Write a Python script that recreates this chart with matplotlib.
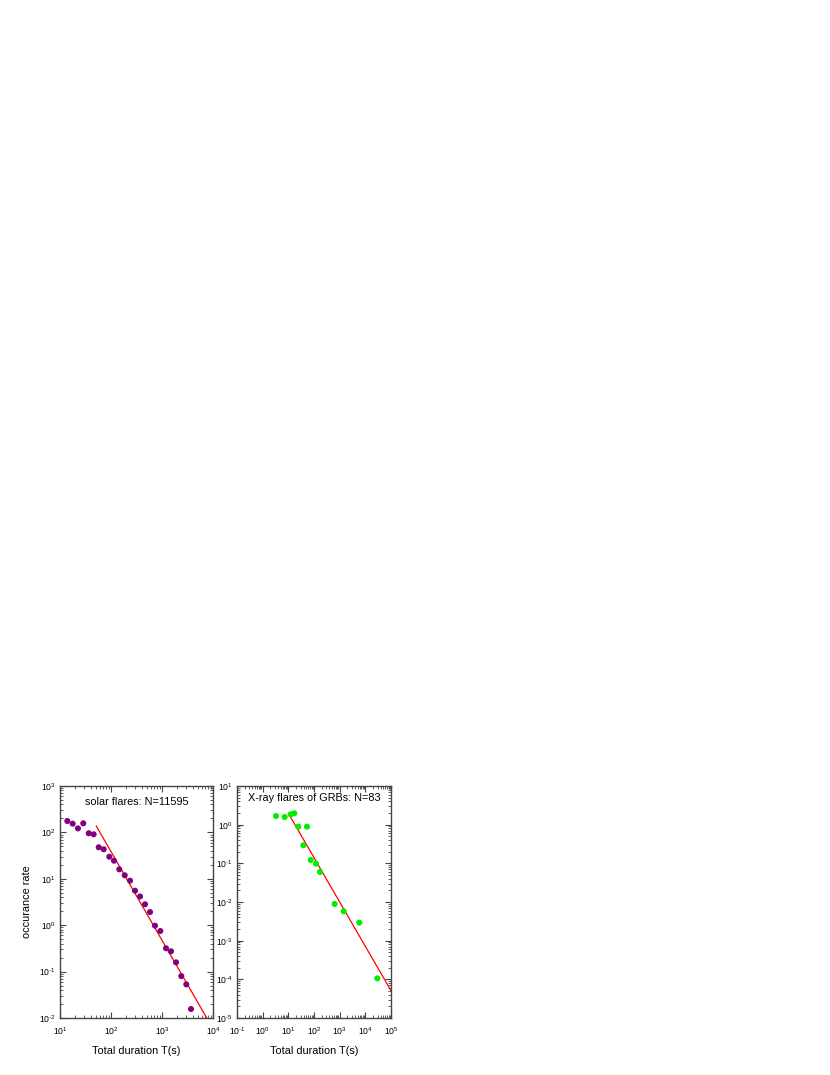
import matplotlib
matplotlib.use("Agg")
import matplotlib.pyplot as plt
import numpy as np
from matplotlib.ticker import LogLocator, NullFormatter, FuncFormatter

plt.rcParams['font.family'] = ['Liberation Sans', 'DejaVu Sans']
plt.rcParams['mathtext.fontset'] = 'custom'
plt.rcParams['mathtext.rm'] = 'Liberation Sans'
plt.rcParams['mathtext.default'] = 'regular'

# Solar flares
solar_T = [13.9, 17.7, 22.5, 28.6, 36.6, 45.8, 57.4, 71.9, 92.7, 114.5, 145.5, 185.8,
           236, 295.6, 370.7, 464.6, 582, 729, 927, 1198, 1500, 1883, 2389, 2995, 3704]
solar_rate = [176, 154, 122, 157, 95.7, 91, 47.8, 43.2, 29.9, 24.5, 16.0, 11.9,
              9.1, 5.54, 4.16, 2.82, 1.92, 0.975, 0.75, 0.318, 0.274, 0.158, 0.080, 0.053, 0.0156]
solar_fit_x = [51.5, 7520]
solar_fit_amp = 137.0
solar_fit_index = -1.91

# X-ray flares of GRBs
grb_T = [3.30, 7.2, 12.4, 17.1, 24.4, 53.3, 38.3, 74.3, 119.6, 171, 640, 1435, 5810, 29240]
grb_rate = [1.67, 1.58, 1.85, 1.97, 0.888, 0.888, 0.293, 0.122, 0.098, 0.0597,
            0.0089, 0.00575, 0.00292, 1.06e-4]
grb_fit_x = [10, 1e5]
grb_fit_amp = 1.97
grb_fit_index = -1.147

fig = plt.figure(figsize=(8.3, 10.75), dpi=100)
W, H = 830, 1075
axL = fig.add_axes([60 / W, (H - 1018) / H, 153 / W, 232 / H])
axR = fig.add_axes([237 / W, (H - 1018) / H, 154 / W, 232 / H])

spine_col = '#444444'


def fmt(v, pos):
    e = int(round(np.log10(v)))
    s = str(e).replace('-', '\u2010')
    return r'$10^{%s}$' % s


def style(ax, xlim, ylim):
    ax.set_xscale('log')
    ax.set_yscale('log')
    ax.set_xlim(*xlim)
    ax.set_ylim(*ylim)
    for s in ax.spines.values():
        s.set_color(spine_col)
        s.set_linewidth(1.0)
    ax.tick_params(which='both', direction='in', top=True, right=True,
                   color=spine_col, labelsize=6.2, pad=3)
    ax.tick_params(which='major', length=4, width=0.8)
    ax.tick_params(which='minor', length=2, width=0.6)
    ax.xaxis.set_major_locator(LogLocator(base=10, numticks=20))
    ax.yaxis.set_major_locator(LogLocator(base=10, numticks=20))
    ax.xaxis.set_minor_locator(LogLocator(base=10, subs=np.arange(2, 10), numticks=20))
    ax.yaxis.set_minor_locator(LogLocator(base=10, subs=np.arange(2, 10), numticks=20))
    ax.xaxis.set_major_formatter(FuncFormatter(fmt))
    ax.yaxis.set_major_formatter(FuncFormatter(fmt))
    ax.xaxis.set_minor_formatter(NullFormatter())
    ax.yaxis.set_minor_formatter(NullFormatter())


style(axL, (10, 1e4), (1e-2, 1e3))
style(axR, (1e-1, 1e5), (1e-5, 1e1))
axL.tick_params(axis='x', pad=5.5)
axR.tick_params(axis='x', pad=5.5)

axL.scatter(solar_T, solar_rate, s=19, color='#800080', edgecolors='none', zorder=3)
xf = np.array(solar_fit_x)
axL.plot(xf, solar_fit_amp * (xf / solar_fit_x[0]) ** solar_fit_index, color='red', lw=0.9, zorder=2)

axR.scatter(grb_T, grb_rate, s=19, color='#00ee00', edgecolors='none', zorder=3)
xg = np.array(grb_fit_x)
axR.plot(xg, grb_fit_amp * (xg / grb_fit_x[0]) ** grb_fit_index, color='red', lw=0.9, zorder=2)

axL.text(0.5, 0.932, 'solar flares: N=11595', transform=axL.transAxes,
         ha='center', va='center', fontsize=7.8)
axR.text(0.5, 0.95, 'X-ray flares of GRBs: N=83', transform=axR.transAxes,
         ha='center', va='center', fontsize=7.8)

axL.set_ylabel('occurance rate', fontsize=7.8)
axL.yaxis.set_label_coords(-0.183, 0.5)
for ax in (axL, axR):
    ax.set_xlabel('Total duration T(s)', fontsize=7.8)
    ax.xaxis.set_label_coords(0.5, -0.12)

fig.savefig('out.png', dpi=100)
